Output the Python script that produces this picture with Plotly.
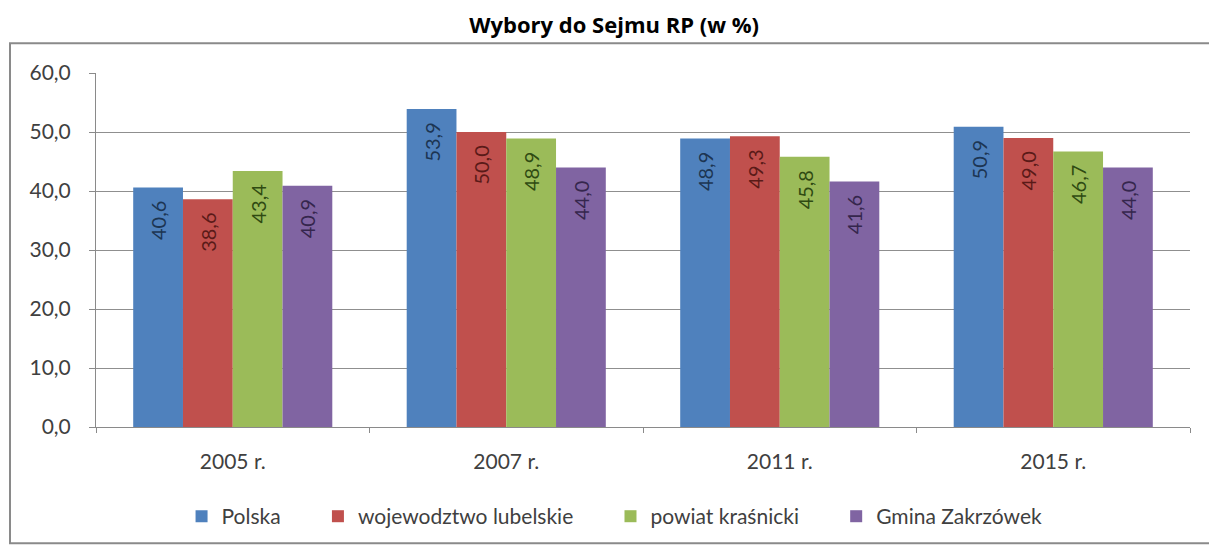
import plotly.graph_objects as go

# Election turnout data (per cent)
years = ["2005 r.", "2007 r.", "2011 r.", "2015 r."]
series_names = ["Polska", "wojewodztwo lubelskie", "powiat kraśnicki", "Gmina Zakrzówek"]
polska = [40.6, 53.9, 48.9, 50.9]
lubelskie = [38.6, 50.0, 49.3, 49.0]
krasnicki = [43.4, 48.9, 45.8, 46.7]
zakrzowek = [40.9, 44.0, 41.6, 44.0]
y_ticks = [0, 10, 20, 30, 40, 50, 60]

bar_colors = ["#4F81BD", "#C0504D", "#9BBB59", "#8064A2"]
label_colors = ["#1c3553", "#5a1a18", "#2f4a12", "#35264d"]
FONT = "Lato, 'Open Sans', sans-serif"
PAD = "\u00a0" * 6  # extra room between legend entries

W, H = 1209, 549
ML, MR, MT, MB = 96, 19, 73, 120

fig = go.Figure()
series = [polska, lubelskie, krasnicki, zakrzowek]
for i, (name, vals, col, lcol) in enumerate(zip(series_names, series, bar_colors, label_colors)):
    legend_name = name + (PAD if i < len(series) - 1 else "")
    fig.add_trace(go.Bar(
        x=years, y=vals, name=legend_name,
        marker=dict(color=col, line=dict(width=0)),
        # trailing non-breaking spaces keep the value a little below the bar top
        texttemplate="%{y:.1f}\u00a0\u00a0", textposition="inside", insidetextanchor="end",
        textangle=-90, textfont=dict(color=lcol, size=20, family=FONT),
        constraintext="none",
    ))

pw = W - ML - MR
ph = H - MT - MB
# outer frame of the chart
fig.add_shape(type="rect", xref="paper", yref="paper",
              x0=(10 - ML) / pw, x1=(W + 5 - ML) / pw,
              y0=-(H - 3 - MT - ph) / ph, y1=(MT - 43) / ph + 1,
              line=dict(color="#8a8a8a", width=2), layer="below")

fig.update_layout(
    width=W, height=H,
    margin=dict(l=ML, r=MR, t=MT, b=MB),
    paper_bgcolor="white", plot_bgcolor="white",
    separators=", ",
    barmode="group", bargap=0.272, bargroupgap=0,
    title=dict(text="<b>Wybory do Sejmu RP (w %)</b>", x=0.508, xanchor="center",
               y=1 - 25 / H, yanchor="middle",
               font=dict(family="'Open Sans', sans-serif", size=22, color="#000000")),
    font=dict(family=FONT, color="#404040", size=21),
    showlegend=True,
    legend=dict(orientation="h", x=0.474, xanchor="center", y=-0.253, yanchor="middle",
                font=dict(size=21, color="#404040"), itemclick=False,
                traceorder="normal", bgcolor="rgba(0,0,0,0)"),
    xaxis=dict(type="category", showline=True, linecolor="#8a8a8a", linewidth=1,
               ticks="outside", tickson="boundaries", ticklen=5, tickcolor="#8a8a8a",
               showgrid=False, ticklabelstandoff=16,
               tickfont=dict(size=21, color="#404040")),
    yaxis=dict(range=[0, 60], tickvals=y_ticks, tickformat=".1f",
               showline=True, linecolor="#8a8a8a", linewidth=1,
               ticks="outside", ticklen=6, tickcolor="#8a8a8a",
               showgrid=True, gridcolor="#8f8f8f", gridwidth=1,
               zeroline=False, ticklabelstandoff=14,
               tickfont=dict(size=21, color="#404040")),
)

fig.write_html("out.html")
